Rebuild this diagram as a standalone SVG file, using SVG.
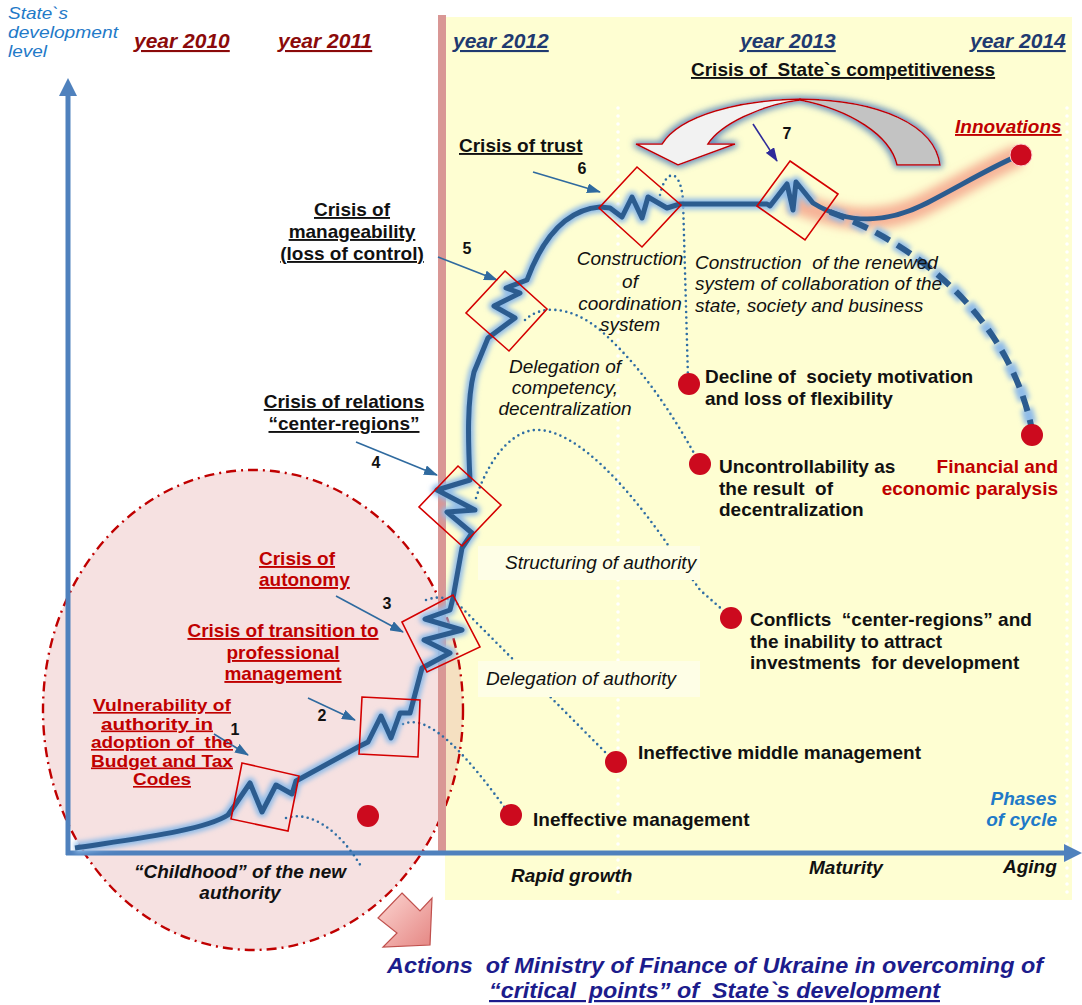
<svg xmlns="http://www.w3.org/2000/svg" width="1082" height="1005" viewBox="0 0 1082 1005">
<style>
text{font-family:"Liberation Sans",Arial,sans-serif;font-size:19px;fill:#111}
.b{font-weight:bold}
.i{font-style:italic}
.u{text-decoration:underline}
.red{fill:#c00000}
.dred{fill:#8b0a0a}
.navy{fill:#1f3a70}
.blue{fill:#1f7ac8}
.num{font-weight:bold;font-size:16px;text-anchor:middle}
.mid{text-anchor:middle}
.end{text-anchor:end}
.sm{font-size:16.4px}
.box{fill:none;stroke:#d40000;stroke-width:1.6}
.dot{fill:#cc0a1e}
.dotted{fill:none;stroke:#2e6da4;stroke-width:2.6;stroke-dasharray:0 5.5;stroke-linecap:round}
.ptr{stroke:#2f6a9f;stroke-width:1.6;fill:none}
</style>
<defs>
<filter id="blur3" x="-20%" y="-20%" width="140%" height="140%"><feGaussianBlur stdDeviation="2.6"/></filter>
<filter id="blur6" x="-20%" y="-50%" width="140%" height="200%"><feGaussianBlur stdDeviation="5"/></filter>
<filter id="bglow" x="-10%" y="-30%" width="120%" height="160%">
<feMorphology in="SourceAlpha" operator="dilate" radius="2" result="d"/>
<feGaussianBlur in="d" stdDeviation="3" result="bl"/>
<feFlood flood-color="#4f7fb8" flood-opacity="0.85"/>
<feComposite in2="bl" operator="in" result="g"/>
<feMerge><feMergeNode in="g"/><feMergeNode in="SourceGraphic"/></feMerge>
</filter>
<linearGradient id="pinkArrow" x1="0" y1="0" x2="1" y2="1">
<stop offset="0" stop-color="#fcd6d2"/><stop offset="1" stop-color="#e58683"/>
</linearGradient>
<marker id="ah" markerWidth="14" markerHeight="10" refX="13" refY="5" orient="auto" markerUnits="userSpaceOnUse"><path d="M0,0 L14,5 L0,10 Z" fill="#2f6a9f"/></marker>
<marker id="ah7" markerWidth="14" markerHeight="10" refX="13" refY="5" orient="auto" markerUnits="userSpaceOnUse"><path d="M0,0 L14,5 L0,10 Z" fill="#2e2a9a"/></marker>
</defs>

<rect width="1082" height="1005" fill="#ffffff"/>
<g id="background">
<rect x="445" y="17" width="627" height="883" fill="#fefed2"/>
<line x1="618" y1="108" x2="618" y2="898" stroke="#ffffff" stroke-width="3.5" stroke-dasharray="0 8" stroke-linecap="round"/>
<line x1="1067" y1="108" x2="1067" y2="898" stroke="#ffffff" stroke-width="3.5" stroke-dasharray="0 8" stroke-linecap="round"/>
<ellipse id="childhood-zone" cx="253" cy="710" rx="210" ry="240" fill="#e19a9a" fill-opacity="0.3" stroke="#c00000" stroke-width="2.4" stroke-dasharray="10 5 2 5"/>
<rect x="438" y="15" width="8" height="838" fill="#d99795"/>
</g>

<g id="axes">
<line x1="68" y1="855" x2="68" y2="94" stroke="#4f81bd" stroke-width="5"/>
<polygon points="68,78 59,96 77,96" fill="#4f81bd"/>
<line x1="66" y1="853" x2="1066" y2="853" stroke="#4f81bd" stroke-width="5"/>
<polygon points="1082,853 1064,844 1064,862" fill="#4f81bd"/>
</g>

<g id="connectors">
<path class="dotted" d="M286,818 C310,810 340,830 362,868"/>
<path class="dotted" d="M403,724 C430,712 470,760 505,808"/>
<path class="dotted" d="M426,600 C440,595 450,598 460,606 L610,757"/>
<path class="dotted" d="M476,498 C490,455 515,428 540,430 C580,433 630,490 668,545 L700,590 L725,612"/>
<path class="dotted" d="M525,320 C540,305 570,305 600,330 C640,365 670,410 695,455"/>
<path class="dotted" d="M660,195 C665,170 680,166 683,200 L688,378"/>
<line class="ptr" x1="214" y1="734" x2="248" y2="755" marker-end="url(#ah)"/>
<line class="ptr" x1="308" y1="698" x2="355" y2="720" marker-end="url(#ah)"/>
<line class="ptr" x1="336" y1="596" x2="403" y2="632" marker-end="url(#ah)"/>
<line class="ptr" x1="356" y1="442" x2="437" y2="475" marker-end="url(#ah)"/>
<line class="ptr" x1="438" y1="257" x2="497" y2="280" marker-end="url(#ah)"/>
<line class="ptr" x1="533" y1="172" x2="600" y2="192" marker-end="url(#ah)"/>
<line x1="753" y1="124" x2="777" y2="161" stroke="#2e2a9a" stroke-width="1.6" marker-end="url(#ah7)"/>
</g>

<g id="label-backgrounds">
<rect x="478" y="546" width="222" height="34" fill="#fefee6"/>
<rect x="478" y="661" width="222" height="36" fill="#fefee6"/>
</g>

<g id="curve">
<path d="M790,200 C850,226 890,222 927,203 C960,186 995,165 1020,155" fill="none" stroke="#f4a08a" stroke-width="22" stroke-opacity="0.8" filter="url(#blur6)"/>
<path id="curve-glow" d="M75,848 C140,838 205,830 228,815 L235,805 L250,783 L262,812 L276,785 L292,794 L296,781 L360,746 L368,742 L381,716 L391,738 L400,713 L410,713 L422,668 L450,653 L424,640 L462,630 L425,619 L450,610 L453,598 L462,548 L472,533 L447,512 L475,510 L437,490 L470,480 C468,440 467,400 474,372 L488,338 L515,318 L494,306 L520,293 L506,288 L527,280 C540,245 562,210 600,207 L610,208 L622,217 L632,197 L642,218 L648,197 L667,208 L680,204 L767,204 L770,206 L787,184 L793,210 L796,182 L813,203" fill="none" stroke="#8fbbe8" stroke-width="11" stroke-linejoin="round" filter="url(#blur3)"/>
<path d="M830,212 C920,245 1010,320 1032,430" fill="none" stroke="#8fbbe8" stroke-width="12" stroke-dasharray="16 8" filter="url(#blur3)"/>
<path d="M75,848 C140,838 205,830 228,815 L235,805 L250,783 L262,812 L276,785 L292,794 L296,781 L360,746 L368,742 L381,716 L391,738 L400,713 L410,713 L422,668 L450,653 L424,640 L462,630 L425,619 L450,610 L453,598 L462,548 L472,533 L447,512 L475,510 L437,490 L470,480 C468,440 467,400 474,372 L488,338 L515,318 L494,306 L520,293 L506,288 L527,280 C540,245 562,210 600,207 L610,208 L622,217 L632,197 L642,218 L648,197 L667,208 L680,204 L767,204 L770,206 L787,184 L793,210 L796,182 L813,203 C850,226 890,222 927,203 C960,186 995,165 1020,155" fill="none" stroke="#2c5c8f" stroke-width="5" stroke-linejoin="round"/>
<path d="M830,212 C920,245 1010,320 1032,430" fill="none" stroke="#2c5c8f" stroke-width="6" stroke-dasharray="16 9"/>
</g>

<g id="u-arrow" filter="url(#bglow)">
<path d="M800,99 C880,100 935,125 940,165 L897,165 C890,135 850,110 800,100 Z" fill="#c3c3c3" stroke="#c00000" stroke-width="1.5"/>
<path d="M800,99 C740,100 680,115 662,144 L636,144 L678,165 L735,144 L708,144 C720,125 760,105 800,100 Z" fill="#f2f2f2" stroke="#c00000" stroke-width="1.5"/>
</g>

<g id="axis-label">
<text class="i blue sm" x="8" y="19" textLength="60" lengthAdjust="spacingAndGlyphs">State`s</text>
<text class="i blue sm" x="8" y="38" textLength="110" lengthAdjust="spacingAndGlyphs">development</text>
<text class="i blue sm" x="8" y="57" textLength="39" lengthAdjust="spacingAndGlyphs">level</text>
<text class="b i blue end" x="1057" y="805">Phases</text>
<text class="b i blue end" x="1057" y="826">of cycle</text>
</g>

<g id="years">
<text class="b i u dred" x="134" y="48" style="font-size:21px">year 2010</text>
<text class="b i u dred" x="278" y="48" style="font-size:21px">year 2011</text>
<text class="b i u navy" x="453" y="48" style="font-size:21px">year 2012</text>
<text class="b i u navy" x="740" y="48" style="font-size:21px">year 2013</text>
<text class="b i u navy" x="970" y="48" style="font-size:21px">year 2014</text>
</g>

<g id="crisis-competitiveness">
<text class="b u" x="691" y="76" xml:space="preserve">Crisis of  State`s competitiveness</text>
</g>

<g id="crisis-1">
<polygon class="box" points="242,763 299,776 288,831 231,819"/>
<text class="b u red mid sm" x="162" y="711" textLength="138" lengthAdjust="spacingAndGlyphs">Vulnerability of</text>
<text class="b u red mid sm" x="157" y="729.5" textLength="112" lengthAdjust="spacingAndGlyphs">authority in</text>
<text class="b u red mid sm" x="162" y="748" textLength="142" lengthAdjust="spacingAndGlyphs" xml:space="preserve">adoption of  the</text>
<text class="b u red mid sm" x="162" y="766.5" textLength="142" lengthAdjust="spacingAndGlyphs">Budget and Tax</text>
<text class="b u red mid sm" x="162" y="785" textLength="58" lengthAdjust="spacingAndGlyphs">Codes</text>
<text class="num" x="235" y="735">1</text>
</g>

<g id="crisis-2">
<polygon class="box" points="362,697 420,700 418,757 359,754"/>
<text class="b u red mid" x="283" y="637">Crisis of transition to</text>
<text class="b u red mid" x="283" y="659">professional</text>
<text class="b u red mid" x="283" y="680">management</text>
<text class="num" x="322" y="721">2</text>
</g>

<g id="crisis-3">
<polygon class="box" points="402,622 453,595 480,647 427,672"/>
<text class="b u red" x="259" y="565">Crisis of</text>
<text class="b u red" x="259" y="586">autonomy</text>
<text class="num" x="387" y="609">3</text>
</g>

<g id="crisis-4">
<polygon class="box" points="458,466 501,505 462,546 419,507"/>
<text class="b u mid" x="344" y="408">Crisis of relations</text>
<text class="b u mid" x="344" y="430">“center-regions”</text>
<text class="num" x="376" y="468">4</text>
</g>

<g id="crisis-5">
<polygon class="box" points="505,271 547,309 509,351 466,313"/>
<text class="b u mid" x="352" y="216">Crisis of</text>
<text class="b u mid" x="352" y="238">manageability</text>
<text class="b u mid" x="352" y="260">(loss of control)</text>
<text class="num" x="467" y="254">5</text>
</g>

<g id="crisis-6">
<polygon class="box" points="637,167 681,205 642,247 599,208"/>
<text class="b u" x="459" y="152">Crisis of trust</text>
<text class="num" x="582" y="174">6</text>
</g>

<g id="crisis-7">
<polygon class="box" points="790,161 838,194 805,240 757,206"/>
<text class="num" x="787" y="139">7</text>
</g>

<g id="stage-labels">
<text class="i mid" x="630" y="265">Construction</text>
<text class="i mid" x="630" y="288">of</text>
<text class="i mid" x="630" y="310">coordination</text>
<text class="i mid" x="630" y="331">system</text>
<text class="i" x="695" y="269" xml:space="preserve">Construction  of the renewed</text>
<text class="i" x="695" y="290">system of collaboration of the</text>
<text class="i" x="695" y="312">state, society and business</text>
<text class="i mid" x="565" y="373">Delegation of</text>
<text class="i mid" x="565" y="394">competency,</text>
<text class="i mid" x="565" y="415">decentralization</text>
<text class="i" x="505" y="569">Structuring of authority</text>
<text class="i" x="486" y="685">Delegation of authority</text>
</g>

<g id="outcome-innovations">
<circle class="dot" cx="1021" cy="155" r="11" stroke="#ffd0d0" stroke-width="1"/>
<text class="b i u red" x="955" y="133">Innovations</text>
</g>
<g id="outcome-paralysis">
<circle class="dot" cx="1032" cy="435" r="11"/>
<text class="b red end" x="1058" y="473">Financial and</text>
<text class="b red end" x="1058" y="495">economic paralysis</text>
</g>
<g id="outcome-decline">
<circle class="dot" cx="689" cy="384" r="11"/>
<text class="b" x="705" y="383" xml:space="preserve">Decline of  society motivation</text>
<text class="b" x="705" y="405">and loss of flexibility</text>
</g>
<g id="outcome-uncontrollability">
<circle class="dot" cx="700" cy="464" r="11"/>
<text class="b" x="719" y="473">Uncontrollability as</text>
<text class="b" x="719" y="495" xml:space="preserve">the result  of</text>
<text class="b" x="719" y="516">decentralization</text>
</g>
<g id="outcome-conflicts">
<circle class="dot" cx="731" cy="618" r="11"/>
<text class="b" x="750" y="626" xml:space="preserve">Conflicts  “center-regions” and</text>
<text class="b" x="750" y="648">the inability to attract</text>
<text class="b" x="750" y="669" xml:space="preserve">investments  for development</text>
</g>
<g id="outcome-middle-management">
<circle class="dot" cx="616" cy="762" r="11"/>
<text class="b" x="638" y="759">Ineffective middle management</text>
</g>
<g id="outcome-management">
<circle class="dot" cx="511" cy="815" r="11"/>
<text class="b" x="533" y="826">Ineffective management</text>
</g>
<g id="outcome-unlabeled">
<circle class="dot" cx="368" cy="816" r="11"/>
</g>

<g id="phases">
<text class="b i mid" x="240" y="878">“Childhood” of the new</text>
<text class="b i mid" x="240" y="899">authority</text>
<text class="b i" x="511" y="882">Rapid growth</text>
<text class="b i" x="809" y="874">Maturity</text>
<text class="b i" x="1003" y="873">Aging</text>
</g>

<g id="actions">
<polygon points="402,893 420,911 432,898 430,945 383,947 397,933 378,918" fill="url(#pinkArrow)" stroke="#c0504d" stroke-width="1.2"/>
<text class="b i" x="387" y="973" style="fill:#1c1c8c;font-size:22px" textLength="656" lengthAdjust="spacingAndGlyphs" xml:space="preserve">Actions  of Ministry of Finance of Ukraine in overcoming of</text>
<text class="b i u" x="489" y="998" style="fill:#1c1c8c;font-size:22px" textLength="451" lengthAdjust="spacingAndGlyphs" xml:space="preserve">“critical  points” of  State`s development</text>
</g>
</svg>
